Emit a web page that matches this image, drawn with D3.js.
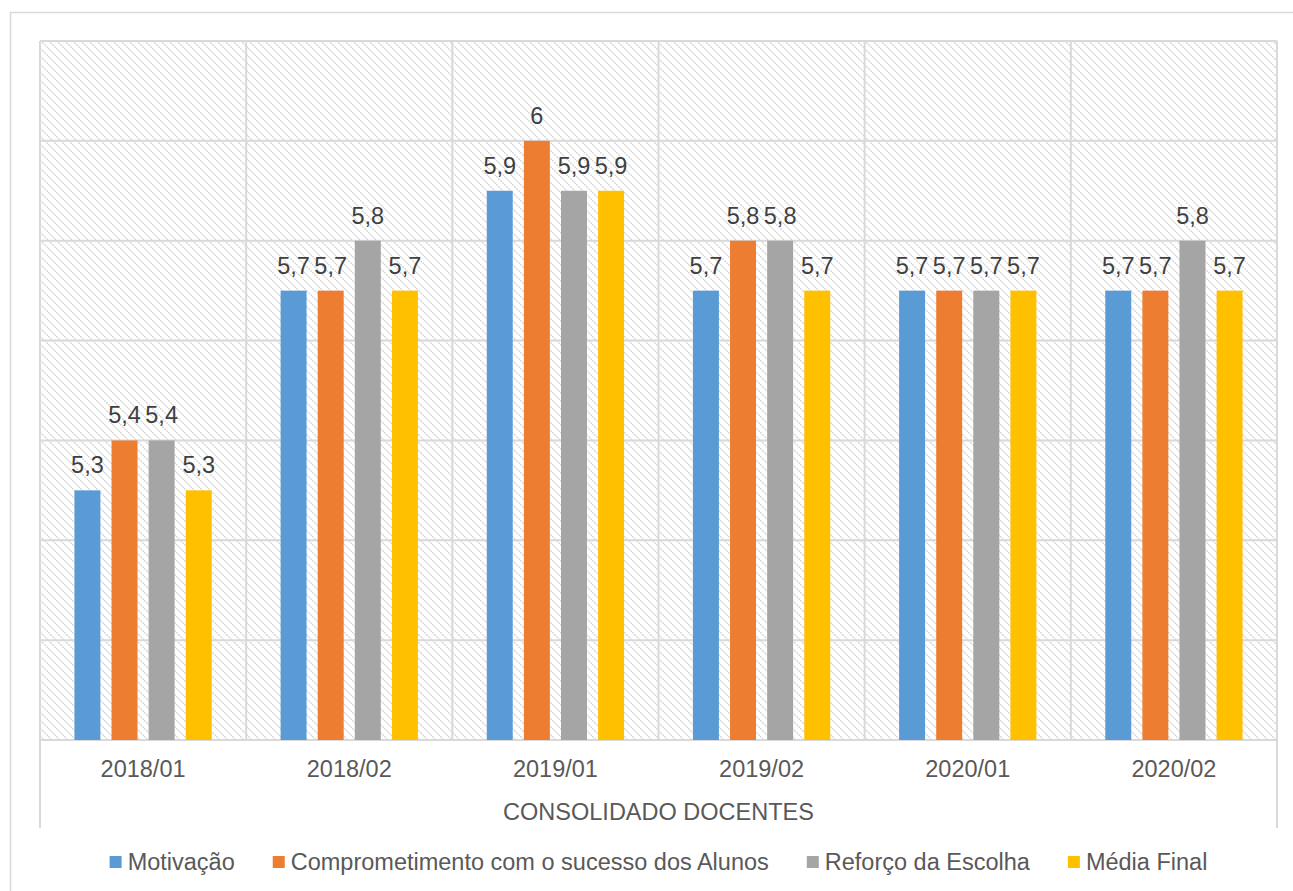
<!DOCTYPE html>
<html>
<head>
<meta charset="utf-8">
<script src="https://cdn.jsdelivr.net/npm/d3@7"></script>
<style>
  html, body { margin: 0; padding: 0; background: #fff; }
  svg { display: block; }
  text { font-family: "Liberation Sans", Arial, sans-serif; fill: #595959; }
</style>
</head>
<body>
<script>
const categories = ["2018/01", "2018/02", "2019/01", "2019/02", "2020/01", "2020/02"];
const seriesNames = ["Motivação", "Comprometimento com o sucesso dos Alunos", "Reforço da Escolha", "Média Final"];
const motivacao = [5.3, 5.7, 5.9, 5.7, 5.7, 5.7];
const comprometimento = [5.4, 5.7, 6.0, 5.8, 5.7, 5.7];
const reforco = [5.4, 5.8, 5.9, 5.8, 5.7, 5.8];
const mediaFinal = [5.3, 5.7, 5.9, 5.7, 5.7, 5.7];
const colors = ["#5B9BD5", "#ED7D31", "#A5A5A5", "#FFC000"];
const axisTitle = "CONSOLIDADO DOCENTES";
const yTicks = [4.8, 5.0, 5.2, 5.4, 5.6, 5.8, 6.0, 6.2];

const series = [motivacao, comprometimento, reforco, mediaFinal];
const W = 1293, H = 891;
const plot = { left: 40, right: 1277, top: 41, bottom: 740 };
const fs = 23.5;

const svg = d3.select("body").append("svg").attr("width", W).attr("height", H);
const defs = svg.append("defs");
const pat = defs.append("pattern").attr("id", "hatch")
  .attr("patternUnits", "userSpaceOnUse").attr("width", 8).attr("height", 8);
pat.append("rect").attr("width", 8).attr("height", 8).attr("fill", "#fff");
pat.append("path").attr("d", "M0,0 L8,8 M-2,6 L2,10 M6,-2 L10,2")
  .attr("stroke", "#d6d6d6").attr("stroke-width", 1.3).attr("stroke-dasharray", "2.2,0.9");

// outer chart border
svg.append("rect").attr("x", 10.5).attr("y", 12.5).attr("width", 1320).attr("height", 950)
  .attr("fill", "none").attr("stroke", "#d9d9d9").attr("stroke-width", 1.5);

const x0 = d3.scaleBand().domain(categories).range([plot.left, plot.right]).padding(0);
const bw = x0.bandwidth();
const x1 = d3.scaleBand().domain(d3.range(series.length)).range([bw * 0.14, bw * 0.86])
  .paddingInner(0.3).paddingOuter(0.15);
const y = d3.scaleLinear().domain([4.8, 6.2]).range([plot.bottom, plot.top]);

// hatched plot background
svg.append("rect").attr("x", plot.left).attr("y", plot.top)
  .attr("width", plot.right - plot.left).attr("height", plot.bottom - plot.top)
  .attr("fill", "url(#hatch)");

const grid = svg.append("g").attr("stroke", "#d9d9d9").attr("stroke-width", 2);
grid.selectAll("line.h").data(yTicks).join("line").attr("class", "h")
  .attr("x1", plot.left).attr("x2", plot.right)
  .attr("y1", d => y(d)).attr("y2", d => y(d));
const vx = categories.map(c => x0(c)).concat([plot.right]);
grid.selectAll("line.v").data(vx).join("line").attr("class", "v")
  .attr("x1", d => d).attr("x2", d => d)
  .attr("y1", plot.top)
  .attr("y2", (d, i) => (i === 0 || i === vx.length - 1) ? 828 : plot.bottom);

// bars
const fmt = v => String(+v.toFixed(1)).replace(".", ",");
series.forEach((vals, si) => {
  const g = svg.append("g");
  g.selectAll("rect").data(vals).join("rect")
    .attr("x", (d, i) => x0(categories[i]) + x1(si))
    .attr("y", d => y(d))
    .attr("width", x1.bandwidth())
    .attr("height", d => plot.bottom - y(d))
    .attr("fill", colors[si]);
  g.selectAll("text").data(vals).join("text")
    .attr("x", (d, i) => x0(categories[i]) + x1(si) + x1.bandwidth() / 2)
    .attr("y", d => y(d) - 17)
    .attr("text-anchor", "middle")
    .attr("font-size", fs)
    .style("fill", "#404040")
    .text(d => fmt(d));
});

// category labels
svg.append("g").selectAll("text").data(categories).join("text")
  .attr("x", d => x0(d) + bw / 2).attr("y", 777)
  .attr("text-anchor", "middle").attr("font-size", fs).text(d => d);

svg.append("text").attr("x", (plot.left + plot.right) / 2).attr("y", 820)
  .attr("text-anchor", "middle").attr("font-size", fs).text(axisTitle);

// legend
const leg = svg.append("g");
const items = seriesNames.map((n, i) => {
  const g = leg.append("g");
  g.append("rect").attr("width", 12).attr("height", 12).attr("y", 856).attr("fill", colors[i]);
  const t = g.append("text").attr("x", 18).attr("y", 870).attr("font-size", fs).text(n);
  return { g, w: 18 + t.node().getComputedTextLength() };
});
const gap = 38;
const total = d3.sum(items, d => d.w) + gap * (items.length - 1);
let cx = (plot.left + plot.right) / 2 - total / 2;
items.forEach(it => { it.g.attr("transform", `translate(${cx},0)`); cx += it.w + gap; });
</script>
</body>
</html>
